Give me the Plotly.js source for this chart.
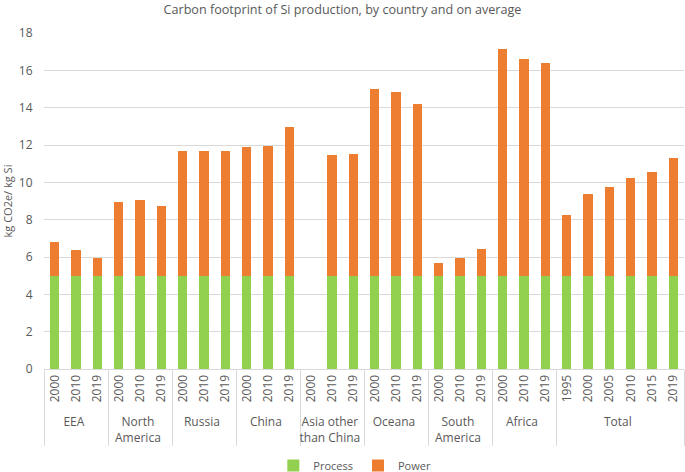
<!DOCTYPE html>
<html><head><meta charset="utf-8">
<script src="https://cdn.plot.ly/plotly-3.0.1.min.js"></script>
<style>body{margin:0;background:#fff}#chart{width:685px;height:472px}</style>
</head><body><div id="chart"></div>
<script>
const groups = ["EEA","EEA","EEA","North<br>America","North<br>America","North<br>America","Russia","Russia","Russia","China","China","China","Asia other<br>than China","Asia other<br>than China","Asia other<br>than China","Oceana","Oceana","Oceana","South<br>America","South<br>America","South<br>America","Africa","Africa","Africa","Total","Total","Total","Total","Total","Total"];
const years = ["2000","2010","2019","2000","2010","2019","2000","2010","2019","2000","2010","2019","2000","2010","2019","2000","2010","2019","2000","2010","2019","2000","2010","2019","1995","2000","2005","2010","2015","2019"];
const processVals = [5,5,5,5,5,5,5,5,5,5,5,5,null,5,5,5,5,5,5,5,5,5,5,5,5,5,5,5,5,5];
const powerVals = [1.8,1.35,0.96,3.97,4.05,3.72,6.68,6.68,6.68,6.88,6.93,7.98,null,6.45,6.5,9.98,9.85,9.2,0.7,0.96,1.42,12.12,11.6,11.4,3.25,4.35,4.75,5.25,5.57,6.28];

// Make the "Total" year labels distinct categories so their order is kept
const yearKeys = years.map((y,i) => groups[i] === "Total" ? y + "\u200b" : y);

const gray = "#595959";
const data = [
  {type:"bar", name:"Process", x:[groups,yearKeys], y:processVals, marker:{color:"#92D050"}},
  {type:"bar", name:"Power", x:[groups,yearKeys], y:powerVals, marker:{color:"#ED7D31"}}
];
const layout = {
  width:685, height:472,
  barmode:"stack", bargap:0.57,
  margin:{l:44, r:1, t:33, b:103},
  paper_bgcolor:"#fff", plot_bgcolor:"#fff",
  font:{family:"Open Sans, Liberation Sans, sans-serif", color:gray, size:12},
  title:{text:"Carbon footprint of Si production, by country and on average", font:{size:12.6, color:gray}, x:0.5, xanchor:"center", y:0.99, yanchor:"top"},
  xaxis:{type:"multicategory", tickangle:-90, showline:true, linecolor:"#d9d9d9", showdividers:true, dividercolor:"#d9d9d9", dividerwidth:1, tickfont:{size:12, color:gray}, ticks:""},
  yaxis:{range:[0,18], dtick:2, showgrid:true, gridcolor:"#d9d9d9", zeroline:false, showline:false, tickfont:{size:12,color:gray}, ticklen:8, tickcolor:"rgba(0,0,0,0)", ticks:"outside",
         title:{text:"kg CO2e/ kg Si", font:{size:11,color:gray}, standoff:6}},
  legend:{orientation:"h", traceorder:"normal", x:0.518, xanchor:"center", xref:"container", yref:"container", y:0.014, yanchor:"middle", itemwidth:30, font:{size:11,color:gray}},
  showlegend:true
};
Plotly.newPlot("chart", data, layout, {displayModeBar:false, staticPlot:true});
</script></body></html>
